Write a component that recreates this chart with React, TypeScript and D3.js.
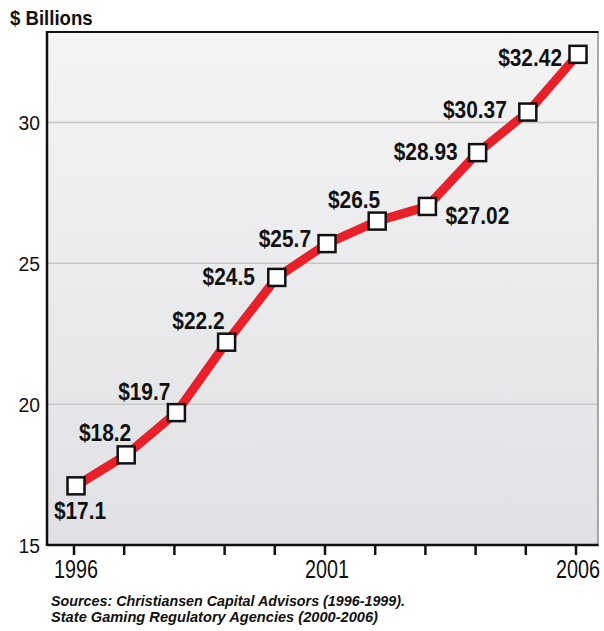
import React from "react";
import * as d3 from "d3";

// Gaming revenue, $ billions, 1996–2006
const years = [1996, 1997, 1998, 1999, 2000, 2001, 2002, 2003, 2004, 2005, 2006];
const revenue = [17.1, 18.2, 19.7, 22.2, 24.5, 25.7, 26.5, 27.02, 28.93, 30.37, 32.42];
const valueLabels = ["$17.1", "$18.2", "$19.7", "$22.2", "$24.5", "$25.7", "$26.5", "$27.02", "$28.93", "$30.37", "$32.42"];
const yTicks = [15, 20, 25, 30];
const xLabelYears = [1996, 2001, 2006];
const sourceLines = [
  "Sources: Christiansen Capital Advisors (1996-1999).",
  "State Gaming Regulatory Agencies (2000-2006)",
];

// Placement of each value label relative to its marker: [dx, dy, anchor]
const labelPlacement: [number, number, string][] = [
  [4, 33, "middle"],
  [5, -14, "end"],
  [-6, -13, "end"],
  [-2, -13, "end"],
  [-22, 8, "end"],
  [-16, 3, "end"],
  [3, -13, "end"],
  [18, 18, "start"],
  [-20, 7, "end"],
  [-21, 6, "end"],
  [-16, 12, "end"],
];

const W = 604;
const H = 631;
const plot = { left: 47, right: 598, top: 32, bottom: 545 };
const sans = "'Liberation Sans', Arial, sans-serif";

// Text squeezed horizontally around its anchor point to mimic a condensed face
function Narrow({
  x,
  y,
  sx,
  children,
  ...rest
}: {
  x: number;
  y: number;
  sx: number;
  children: React.ReactNode;
  [k: string]: any;
}) {
  return (
    <text transform={`translate(${x},${y}) scale(${sx},1)`} x={0} y={0} fontFamily={sans} fill="#111" {...rest}>
      {children}
    </text>
  );
}

export default function App() {
  const x = d3.scaleLinear().domain([1996, 2006]).range([76, 578]);
  const y = d3.scaleLinear().domain([15, 30]).range([545, 122.5]);
  const line = d3
    .line<number>()
    .x((_, i) => x(years[i]))
    .y((d) => y(d));

  const markerSize = 17;

  return (
    <svg
      width={W}
      height={H}
      style={{ position: "absolute", left: 0, top: 0, background: "#fff" }}
    >
      <defs>
        <linearGradient id="plotBg" x1="0" y1="0" x2="0" y2="1">
          <stop offset="0" stopColor="#f4f4f4" />
          <stop offset="1" stopColor="#dfe1e4" />
        </linearGradient>
      </defs>

      <Narrow x={10} y={25} sx={0.93} fontWeight="bold" fontSize={20}>
        $ Billions
      </Narrow>

      <rect
        x={plot.left}
        y={plot.top}
        width={plot.right - plot.left}
        height={plot.bottom - plot.top}
        fill="url(#plotBg)"
      />

      {yTicks
        .filter((t) => t > 15)
        .map((t) => (
          <line key={t} x1={plot.left} x2={plot.right} y1={y(t)} y2={y(t)} stroke="#c6c6c6" strokeWidth={1.5} />
        ))}

      {/* frame */}
      <line x1={plot.right} x2={plot.right} y1={plot.top} y2={plot.bottom} stroke="#777" strokeWidth={1.2} />
      <line x1={plot.left - 1} x2={plot.right + 0.6} y1={plot.top} y2={plot.top} stroke="#111" strokeWidth={2} />
      <line x1={plot.left} x2={plot.left} y1={plot.top - 1} y2={plot.bottom + 1} stroke="#111" strokeWidth={2.5} />
      <line x1={plot.left} x2={plot.right + 0.6} y1={plot.bottom} y2={plot.bottom} stroke="#111" strokeWidth={2.5} />

      {/* y tick labels */}
      {yTicks.map((t) => (
        <Narrow key={t} x={40} y={y(t) + 7.5} sx={0.92} textAnchor="end" fontSize={21}>
          {t}
        </Narrow>
      ))}

      {/* x ticks */}
      {years.map((yr) => (
        <line key={yr} x1={x(yr) - 2} x2={x(yr) - 2} y1={plot.bottom} y2={plot.bottom + 10} stroke="#111" strokeWidth={2.5} />
      ))}
      {xLabelYears.map((yr) => (
        <Narrow key={yr} x={x(yr)} y={578} sx={0.76} textAnchor="middle" fontSize={26}>
          {yr}
        </Narrow>
      ))}

      {/* series */}
      <path d={line(revenue) || ""} fill="none" stroke="#e8202a" strokeWidth={9} strokeLinejoin="round" />
      {revenue.map((v, i) => (
        <rect
          key={i}
          x={x(years[i]) - markerSize / 2}
          y={y(v) - markerSize / 2}
          width={markerSize}
          height={markerSize}
          fill="#fff"
          stroke="#111"
          strokeWidth={2.5}
        />
      ))}

      {revenue.map((v, i) => {
        const [dx, dy, anchor] = labelPlacement[i];
        return (
          <Narrow
            key={i}
            x={x(years[i]) + dx}
            y={y(v) + dy}
            sx={0.87}
            textAnchor={anchor}
            fontWeight="bold"
            fontSize={24}
          >
            {valueLabels[i]}
          </Narrow>
        );
      })}

      {sourceLines.map((s, i) => (
        <text
          key={i}
          x={51}
          y={606 + i * 16}
          fontFamily={sans}
          fontStyle="italic"
          fontWeight="bold"
          fontSize={14}
          textLength={i === 0 ? 354 : 327}
          lengthAdjust="spacingAndGlyphs"
          fill="#111"
        >
          {s}
        </text>
      ))}
    </svg>
  );
}
